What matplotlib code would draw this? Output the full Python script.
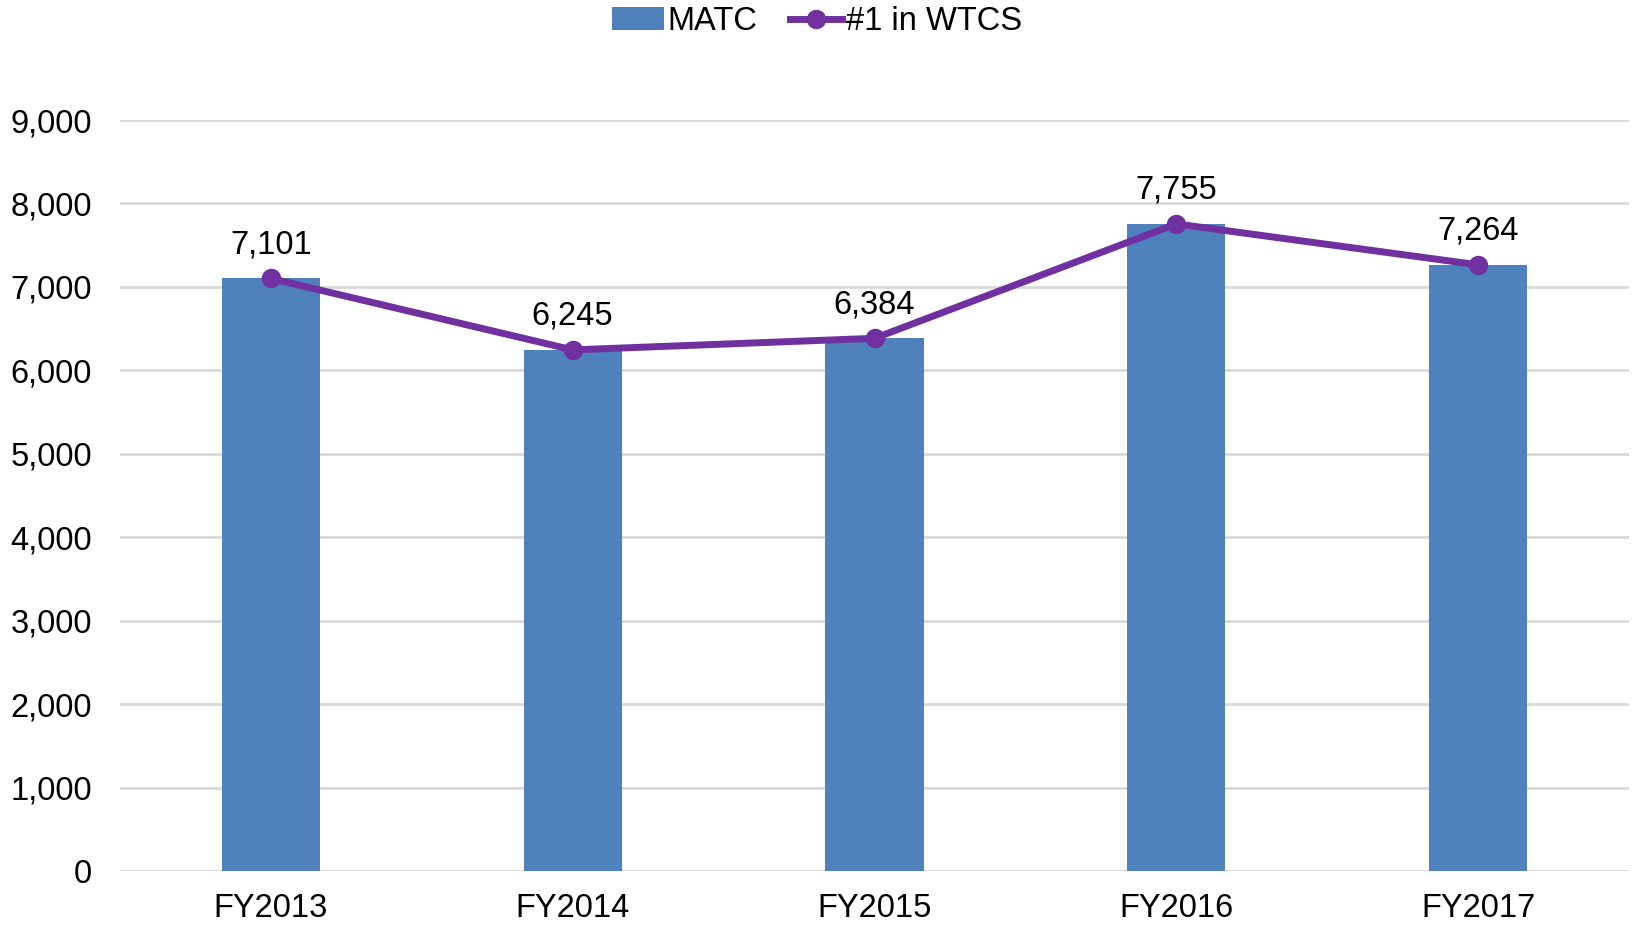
import matplotlib.pyplot as plt
import numpy as np
from matplotlib.ticker import FuncFormatter, MultipleLocator

plt.rcParams['font.family'] = ['Liberation Sans', 'DejaVu Sans']

# データ
years = ['FY2013', 'FY2014', 'FY2015', 'FY2016', 'FY2017']
matc = [7101, 6245, 6384, 7755, 7264]
wtcs_top = [7101, 6245, 6384, 7755, 7264]

fig = plt.figure(figsize=(16.34, 9.26), dpi=100)
ax = fig.add_axes([0.0734, 0.0594, 0.9236, 0.811])

x = np.arange(len(years))
bars = ax.bar(x, matc, 0.325, color='#4F81BD', label='MATC', zorder=2)
line, = ax.plot(x, wtcs_top, color='#7030A0', lw=5, marker='o', markersize=13,
                label='#1 in WTCS', zorder=3)

# 値ラベル
for xi, v in zip(x, wtcs_top):
    ax.annotate(f'{v:,}', (xi, v), xytext=(0, 13), textcoords='offset points',
                ha='center', va='bottom', fontsize=23.5)

ax.set_xlim(-0.5, 4.5)
ax.set_ylim(0, 9000)
ax.yaxis.set_major_locator(MultipleLocator(1000))
ax.yaxis.set_major_formatter(FuncFormatter(lambda v, _: f'{int(v):,}'))
ax.set_xticks(x)
ax.set_xticklabels(years)
ax.tick_params(axis='both', length=0, labelsize=23.5)
ax.tick_params(axis='y', pad=20)
ax.tick_params(axis='x', pad=16)
ax.grid(axis='y', color='#D9D9D9', lw=2, zorder=0)
ax.set_axisbelow(True)
for s in ax.spines.values():
    s.set_visible(False)

fig.legend([bars, line], ['MATC', '#1 in WTCS'], loc='upper center',
           bbox_to_anchor=(0.5, 1.025), ncol=2, frameon=False,
           fontsize=23.5, handlelength=1.6, handletextpad=0.1, columnspacing=1.0)

plt.savefig('out.png', dpi=100)
